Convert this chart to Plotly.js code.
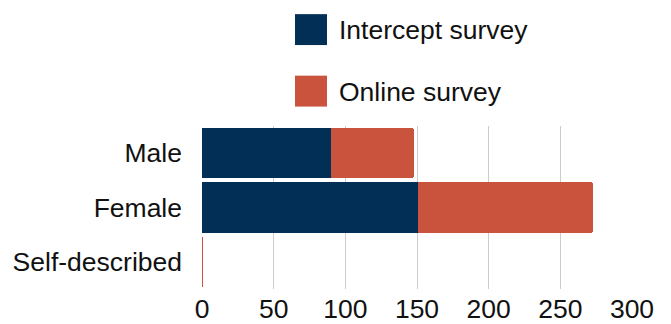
<!DOCTYPE html>
<html>
<head>
<meta charset="utf-8">
<script src="https://cdn.plot.ly/plotly-3.0.1.min.js"></script>
<style>html,body{margin:0;padding:0;background:#fff;}#chart{width:671px;height:324px;}</style>
</head>
<body>
<div id="chart"></div>
<script>
const categories = ["Male", "Female", "Self-described"];
const interceptSurvey = [90, 151, 0];
const onlineSurvey = [58, 122, 1];
const seriesNames = ["Intercept survey", "Online survey"];
const xTicks = [0, 50, 100, 150, 200, 250, 300];

const navy = "#022F56";
const red = "#C9533D";
const fontFamily = "'Liberation Sans', Arial, Helvetica, sans-serif";
const fs = 26.5;

const traces = [
  {type: "bar", orientation: "h", name: seriesNames[0], y: categories, x: interceptSurvey,
   marker: {color: navy}, hoverinfo: "x+y"},
  {type: "bar", orientation: "h", name: seriesNames[1], y: categories, x: onlineSurvey,
   marker: {color: red}, hoverinfo: "x+y"}
];

// legend built as shapes + annotations (paper coords)
const L = 202, R = 632, T = 125.5, B = 289;
const px = v => (v - L) / (R - L);
const py = v => (B - v) / (B - T);

const layout = {
  width: 671, height: 324,
  margin: {l: 202, r: 39, t: 125.5, b: 35},
  paper_bgcolor: "#fff", plot_bgcolor: "#fff",
  barmode: "stack", bargap: 0.07, barcornerradius: 3,
  showlegend: false,
  font: {family: fontFamily, size: fs, color: "#111"},
  xaxis: {range: [0, 300], tickvals: xTicks, ticktext: xTicks.map(String),
          showgrid: true, gridcolor: "#cccccc", gridwidth: 1, zeroline: false,
          showline: false, ticks: "", ticklabelstandoff: 1, tickfont: {size: fs}, fixedrange: true},
  yaxis: {autorange: "reversed", showgrid: false, zeroline: false, showline: false,
          ticks: "", ticklabelstandoff: 19, tickfont: {size: fs}, fixedrange: true},
  shapes: [
    {type: "rect", xref: "paper", yref: "paper", x0: px(295), x1: px(327), y0: py(44.3), y1: py(13.3),
     fillcolor: navy, line: {width: 0}},
    {type: "rect", xref: "paper", yref: "paper", x0: px(295), x1: px(327), y0: py(106), y1: py(75),
     fillcolor: red, line: {width: 0}}
  ],
  annotations: [
    {xref: "paper", yref: "paper", x: px(337), y: py(29), xanchor: "left", yanchor: "middle",
     text: seriesNames[0], showarrow: false, font: {size: fs, color: "#111"}},
    {xref: "paper", yref: "paper", x: px(337), y: py(91), xanchor: "left", yanchor: "middle",
     text: seriesNames[1], showarrow: false, font: {size: fs, color: "#111"}}
  ]
};

Plotly.newPlot("chart", traces, layout, {displayModeBar: false, staticPlot: true});
</script>
</body>
</html>
